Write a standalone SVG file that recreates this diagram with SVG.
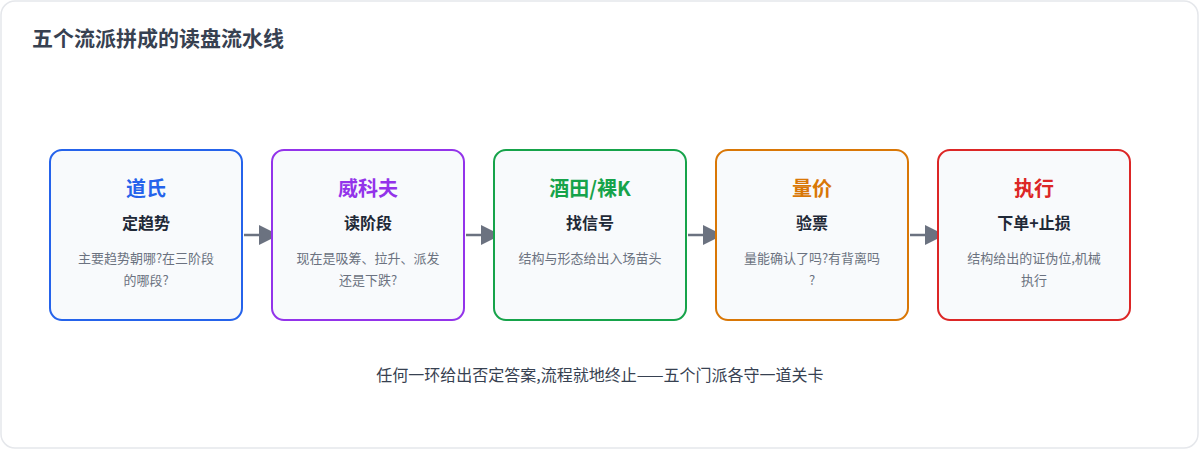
<svg xmlns="http://www.w3.org/2000/svg" width="1200" height="450" viewBox="0 0 1200 450">
<defs>
<style>
.card{fill:#f8fafc;stroke-width:2}
.t{font-family:"Noto Sans CJK SC","Noto Sans",sans-serif;text-anchor:middle}
.name{font-size:20px;font-weight:700}
.sub{font-size:16px;font-weight:700;fill:#1f2937}
.desc{font-size:13px;fill:#6b7280}
.conn{stroke:#6b7280;stroke-width:2.5;fill:none}
</style>
<marker id="ah" markerWidth="20" markerHeight="20" refX="0" refY="10" orient="auto" markerUnits="userSpaceOnUse">
<path d="M0,0 L20,10 L0,20 Z" fill="#6b7280"/>
</marker>
</defs>
<rect x="0" y="0" width="1200" height="450" fill="#ffffff"/>
<rect x="1" y="1" width="1197" height="447" rx="14" fill="#ffffff" stroke="#e5e7eb" stroke-width="1.5"/>
<text x="32" y="46" font-family="'Noto Sans CJK SC','Noto Sans',sans-serif" font-size="21" font-weight="700" fill="#374151">五个流派拼成的读盘流水线</text>

<g id="connectors">
<line class="conn" x1="244" y1="235" x2="259" y2="235" marker-end="url(#ah)"/>
<line class="conn" x1="466" y1="235" x2="481" y2="235" marker-end="url(#ah)"/>
<line class="conn" x1="688" y1="235" x2="703" y2="235" marker-end="url(#ah)"/>
<line class="conn" x1="910" y1="235" x2="925" y2="235" marker-end="url(#ah)"/>
</g>

<g id="node-dow">
<rect class="card" x="50" y="150" width="192" height="170" rx="12" stroke="#2563eb"/>
<text class="t name" x="146" y="196" fill="#2563eb">道氏</text>
<text class="t sub" x="146" y="229">定趋势</text>
<text class="t desc" x="146" y="263">主要趋势朝哪?在三阶段</text>
<text class="t desc" x="146" y="285">的哪段?</text>
</g>

<g id="node-wyckoff">
<rect class="card" x="272" y="150" width="192" height="170" rx="12" stroke="#9333ea"/>
<text class="t name" x="368" y="196" fill="#9333ea">威科夫</text>
<text class="t sub" x="368" y="229">读阶段</text>
<text class="t desc" x="368" y="263">现在是吸筹、拉升、派发</text>
<text class="t desc" x="368" y="285">还是下跌?</text>
</g>

<g id="node-sakata">
<rect class="card" x="494" y="150" width="192" height="170" rx="12" stroke="#16a34a"/>
<text class="t name" x="590" y="196" fill="#16a34a">酒田/裸K</text>
<text class="t sub" x="590" y="229">找信号</text>
<text class="t desc" x="590" y="263">结构与形态给出入场苗头</text>
</g>

<g id="node-volume">
<rect class="card" x="716" y="150" width="192" height="170" rx="12" stroke="#d97706"/>
<text class="t name" x="812" y="196" fill="#d97706">量价</text>
<text class="t sub" x="812" y="229">验票</text>
<text class="t desc" x="812" y="263">量能确认了吗?有背离吗</text>
<text class="t desc" x="812" y="285">?</text>
</g>

<g id="node-exec">
<rect class="card" x="938" y="150" width="192" height="170" rx="12" stroke="#dc2626"/>
<text class="t name" x="1034" y="196" fill="#dc2626">执行</text>
<text class="t sub" x="1034" y="229">下单+止损</text>
<text class="t desc" x="1034" y="263">结构给出的证伪位,机械</text>
<text class="t desc" x="1034" y="285">执行</text>
</g>

<text class="t" x="600" y="381" font-size="16" fill="#374151">任何一环给出否定答案,流程就地终止——五个门派各守一道关卡</text>
</svg>
